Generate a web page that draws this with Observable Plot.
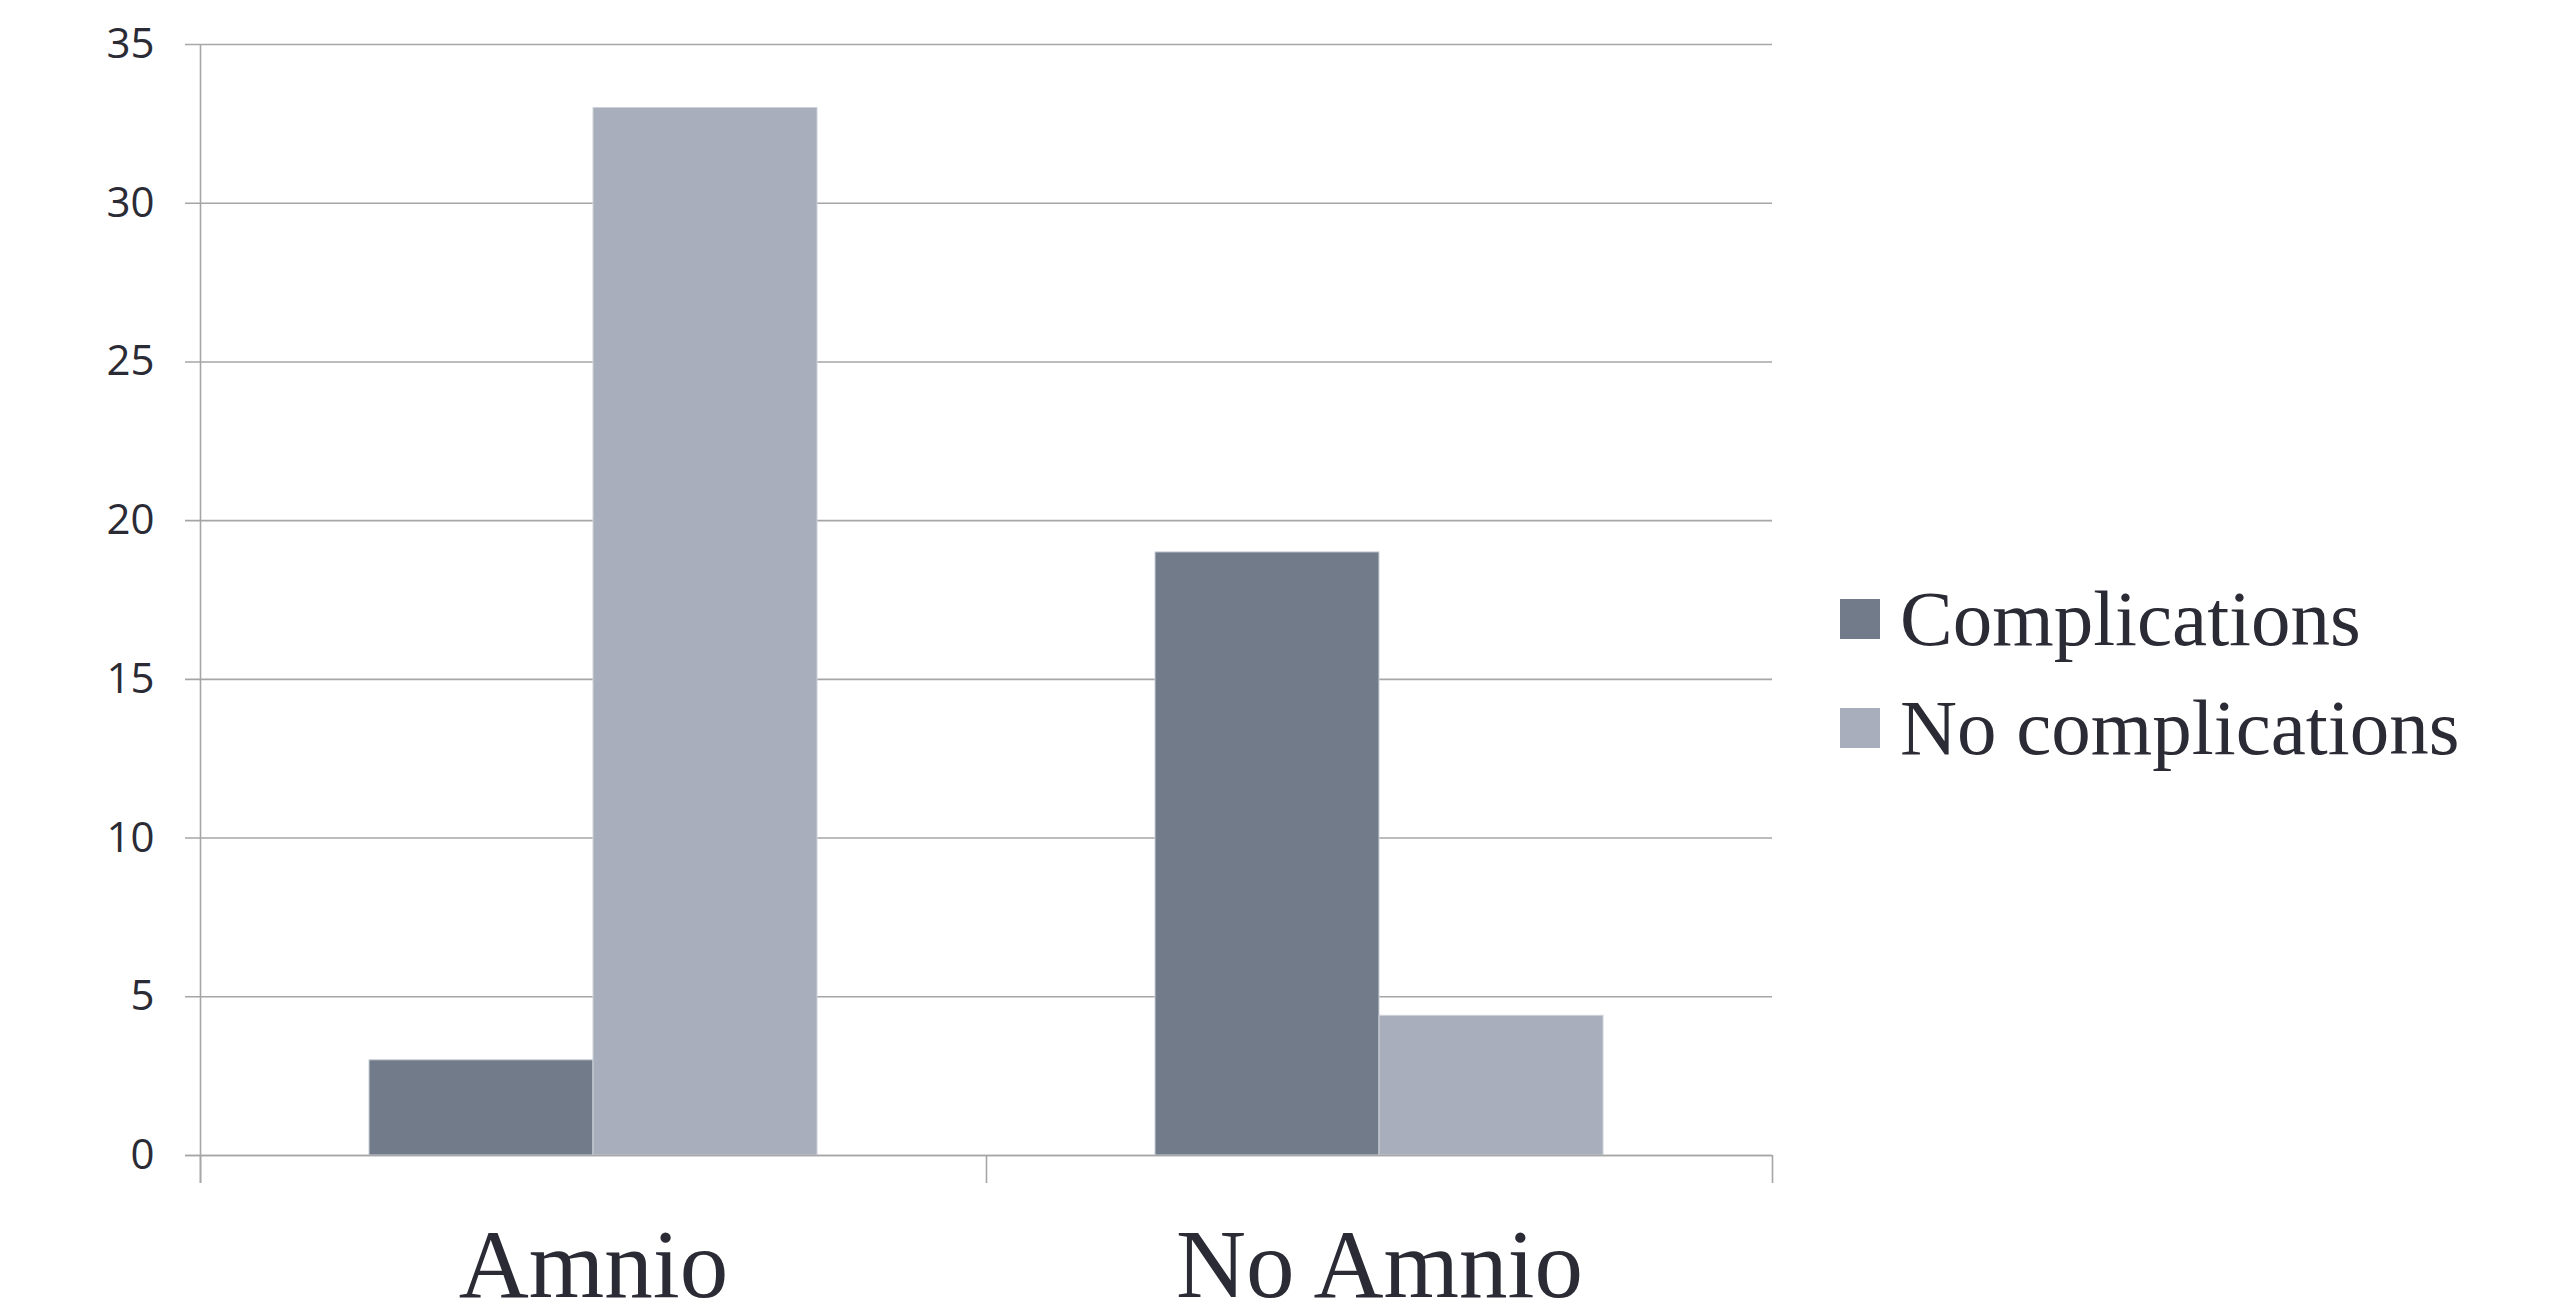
<!DOCTYPE html>
<html>
<head>
<meta charset="utf-8">
<script src="https://cdn.jsdelivr.net/npm/d3@7"></script>
<script src="https://cdn.jsdelivr.net/npm/@observablehq/plot@0.6"></script>
<style>
  html, body { margin: 0; padding: 0; background: #ffffff; }
  #wrap { position: relative; width: 2570px; height: 1309px; overflow: hidden; }
  #chart { position: absolute; left: 0; top: 0; }
  #legend { position: absolute; left: 1840px; top: 564px; font-family: "Liberation Serif", "Times New Roman", serif; color: #2b2b36; }
  .row { display: flex; align-items: center; height: 109px; }
  .sw { width: 40px; height: 40px; margin-right: 20px; flex: none; }
  .lab { font-size: 79px; line-height: 1; white-space: nowrap; }
</style>
</head>
<body>
<div id="wrap">
  <div id="chart"></div>
  <div id="legend"></div>
</div>
<script>
// ---- data ----
const categories = ["Amnio", "No Amnio"];
const seriesNames = ["Complications", "No complications"];
const complications = [3, 19];
const noComplications = [33, 4.4];
const yTicks = [0, 5, 10, 15, 20, 25, 30, 35];
const seriesColors = ["#717b8a", "#a8aebb"];

const rows = [];
categories.forEach((c, i) => {
  rows.push({category: c, series: seriesNames[0], value: complications[i]});
  rows.push({category: c, series: seriesNames[1], value: noComplications[i]});
});

// ---- layout ----
const W = 1800, H = 1309;
const mL = 200, mR = 28, mT = 44, mB = 154;
const bw = (W - mL - mR) / categories.length;
const outer = 0.215 * bw;
const half = 0.5 * bw;
const gridColor = "#a6a6a6";
const textColor = "#2b2b36";

const chart = Plot.plot({
  width: W,
  height: H,
  marginLeft: mL,
  marginRight: mR,
  marginTop: mT,
  marginBottom: mB,
  style: {background: "#ffffff", color: textColor, overflow: "visible"},
  x: {domain: categories, padding: 0, axis: null},
  y: {domain: [0, 35], axis: null},
  color: {domain: seriesNames, range: seriesColors},
  marks: [
    // horizontal gridlines (extend left as ticks)
    Plot.ruleY(yTicks, {y: d => d, stroke: gridColor, strokeWidth: 1.6, insetLeft: -15}),
    // bars
    Plot.barY(rows.filter(d => d.series === seriesNames[0]), {
      x: "category", y: "value", fill: "series",
      insetLeft: outer, insetRight: half,
      stroke: "#cdd2da", strokeWidth: 1
    }),
    Plot.barY(rows.filter(d => d.series === seriesNames[1]), {
      x: "category", y: "value", fill: "series",
      insetLeft: half, insetRight: outer,
      stroke: "#cdd2da", strokeWidth: 1
    }),
    // baseline redraw
    Plot.ruleY([0], {stroke: gridColor, strokeWidth: 1.6, insetLeft: -15}),
    // left vertical axis line
    Plot.ruleX([categories[0]], {x: d => d, dx: -bw / 2, stroke: gridColor, strokeWidth: 1.6, insetBottom: -28}),
    // category boundary ticks
    Plot.ruleX(categories, {x: d => d, dx: -bw / 2, y1: 0, y2: 0, stroke: gridColor, strokeWidth: 1.6, insetBottom: -28}),
    Plot.ruleX([categories[categories.length - 1]], {x: d => d, dx: bw / 2, y1: 0, y2: 0, stroke: gridColor, strokeWidth: 1.6, insetBottom: -28}),
    // y tick labels
    Plot.axisY(yTicks, {
      tickSize: 0, tickPadding: 46, fontSize: 42, label: null,
      fontFamily: "'Open Sans', 'Noto Sans', sans-serif", fill: textColor
    }),
    // category labels
    Plot.axisX({
      tickSize: 0, tickPadding: 73, fontSize: 97, label: null,
      fontFamily: "'Liberation Serif', 'Times New Roman', serif", fill: textColor
    })
  ]
});
document.getElementById("chart").appendChild(chart);

// ---- legend ----
const legend = document.getElementById("legend");
seriesNames.forEach((name, i) => {
  const row = document.createElement("div");
  row.className = "row";
  const sw = document.createElement("div");
  sw.className = "sw";
  sw.style.background = seriesColors[i];
  const lab = document.createElement("span");
  lab.className = "lab";
  lab.textContent = name;
  row.appendChild(sw);
  row.appendChild(lab);
  legend.appendChild(row);
});
</script>
</body>
</html>
